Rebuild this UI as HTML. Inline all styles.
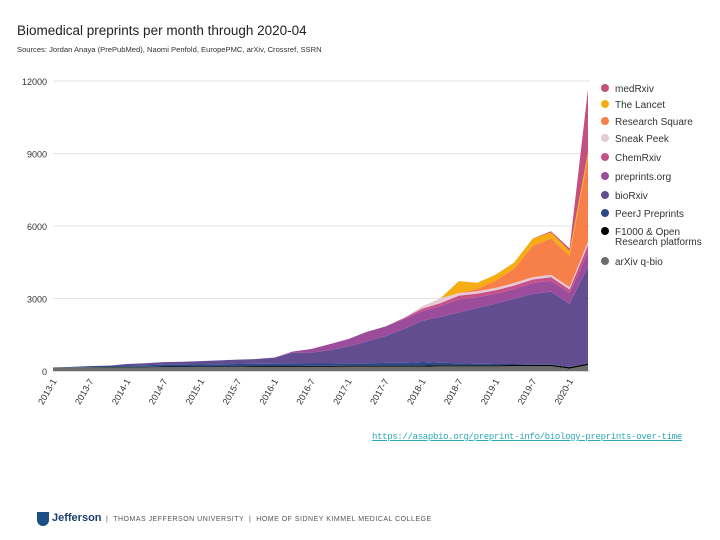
<!DOCTYPE html>
<html><head><meta charset="utf-8"><style>
body{margin:0;width:720px;height:540px;background:#fff;font-family:"Liberation Sans",sans-serif;overflow:hidden;position:relative}
.t{position:absolute;white-space:nowrap}
</style></head><body>
<div class="t" style="left:17px;top:23px;font-size:13.5px;color:#222">Biomedical preprints per month through 2020-04</div>
<div class="t" style="left:17px;top:45px;font-size:7.6px;color:#333">Sources: Jordan Anaya (PrePubMed), Naomi Penfold, EuropePMC, arXiv, Crossref, SSRN</div>
<svg id="chart" width="720" height="420" style="position:absolute;left:0;top:0"></svg>
<a class="t" style="left:372px;top:432px;font-size:9px;color:#2aa9b6;text-decoration:underline;font-family:'Liberation Mono',monospace;letter-spacing:-0.32px">https://asapbio.org/preprint-info/biology-preprints-over-time</a>
<div style="position:absolute;left:37px;top:512px;width:12px;height:14px;background:#1c4f86;border-radius:0 0 6px 6px"></div>
<div class="t" style="left:52px;top:512px;font-size:11px;font-weight:bold;color:#1c3d6e">Jefferson</div>
<div class="t" style="left:106px;top:516px;font-size:7px;color:#555;letter-spacing:0.5px">|&nbsp;&nbsp;THOMAS JEFFERSON UNIVERSITY&nbsp;&nbsp;|&nbsp;&nbsp;HOME OF SIDNEY KIMMEL MEDICAL COLLEGE</div>
<script>
const months=[0,3,6,9,12,15,18,21,24,27,30,33,36,39,42,45,48,51,54,57,60,63,66,69,72,75,78,81,84,87];
const seriesNames=["arXiv q-bio","F1000 & Open Research platforms","PeerJ Preprints","bioRxiv","preprints.org","ChemRxiv","Sneak Peek","Research Square","The Lancet","medRxiv"];
const seriesColors=["#6d6d6d","#000000","#2a4a87","#634d91","#9b4c9a","#c6508a","#e8c9d6","#f7804a","#f6ad13","#c4507f"];
const arxiv=[150,150,150,150,150,150,160,160,160,160,170,170,170,170,170,170,180,180,180,180,180,190,190,190,190,200,200,200,100,250];
const f1000=[0,0,10,15,20,20,25,25,30,30,30,35,35,35,40,40,40,40,45,45,45,50,50,50,50,50,55,55,60,60];
const peerj=[0,20,40,50,60,70,80,80,80,90,90,90,100,100,100,100,100,100,110,110,150,100,80,60,50,40,30,30,10,0];
const biorxiv=[0,0,0,10,60,80,100,120,140,160,180,200,250,450,450,550,700,900,1100,1400,1700,1900,2100,2300,2500,2700,2900,3000,2600,4000];
const preprintsOrg=[0,0,0,0,0,0,0,0,0,0,0,0,0,50,150,250,300,400,400,400,400,450,550,450,400,400,450,450,450,600];
const chemrxiv=[0,0,0,0,0,0,0,0,0,0,0,0,0,0,0,0,0,0,0,50,100,120,150,150,150,150,150,150,150,300];
const sneakPeek=[0,0,0,0,0,0,0,0,0,0,0,0,0,0,0,0,0,0,0,0,100,200,100,100,100,100,100,100,100,150];
const researchSquare=[0,0,0,0,0,0,0,0,0,0,0,0,0,0,0,0,0,0,0,0,0,0,0,100,300,600,1300,1500,1300,3500];
const lancet=[0,0,0,0,0,0,0,0,0,0,0,0,0,0,0,0,0,0,0,0,0,0,500,250,250,250,300,250,200,200];
const medrxiv=[0,0,0,0,0,0,0,0,0,0,0,0,0,0,0,0,0,0,0,0,0,0,0,0,0,0,0,50,100,2600];
const yTicks=[0,3000,6000,9000,12000];
const xTickLabels=["2013-1","2013-7","2014-1","2014-7","2015-1","2015-7","2016-1","2016-7","2017-1","2017-7","2018-1","2018-7","2019-1","2019-7","2020-1"];
const series=[arxiv,f1000,peerj,biorxiv,preprintsOrg,chemrxiv,sneakPeek,researchSquare,lancet,medrxiv];
const NS="http://www.w3.org/2000/svg";
const svg=document.getElementById('chart');
const X=m=>53+m*(535/87);
const Y=v=>371-v*(290/12000);
function mk(t,a){const e=document.createElementNS(NS,t);for(const k in a)e.setAttribute(k,a[k]);svg.appendChild(e);return e;}
yTicks.forEach(v=>{
 const l=mk('line',{x1:53,x2:590,y1:Y(v),y2:Y(v),stroke:v?'#e3e3e3':'#bbb','stroke-width':1});
 
 
 const t=mk('text',{x:47,y:Y(v)+4,'text-anchor':'end','font-size':9,fill:'#333','font-family':'Liberation Sans'});
 t.textContent=v;
 
 
});
let base=months.map(()=>0);
series.forEach((s,i)=>{
 const top=base.map((b,j)=>b+s[j]);
 let d='M'+months.map((m,j)=>X(m)+','+Y(top[j])).join('L');
 for(let j=months.length-1;j>=0;j--)d+='L'+X(months[j])+','+Y(base[j]);
 const p=mk('path',{d:d+'Z',fill:seriesColors[i]});
 
 
 base=top;
});
xTickLabels.forEach(lbl=>{
 const [yr,mo]=lbl.split('-').map(Number);
 const x=X((yr-2013)*12+mo-1)+4;
 const t=mk('text',{x:x,y:381,'text-anchor':'end','font-size':9,fill:'#333','font-family':'Liberation Sans',transform:`rotate(-60 ${x} 381)`});
 t.textContent=lbl;
 
 
});
const legY=[88,104,121,138,157,176,195,213,231,261];
for(let i=9;i>=0;i--){
 const k=9-i;
 const c=mk('circle',{cx:605,cy:legY[k],r:4,fill:seriesColors[i]});
 
 
 const nm=seriesNames[i];
 const parts=nm.startsWith('F1000')?['F1000 & Open','Research platforms']:[nm];
 parts.forEach((pt,q)=>{
  const t=mk('text',{x:615,y:legY[k]+4+q*10,'font-size':10,fill:'#333','font-family':'Liberation Sans'});
  t.textContent=pt;
  
  
 });
}
</script>
</body></html>
